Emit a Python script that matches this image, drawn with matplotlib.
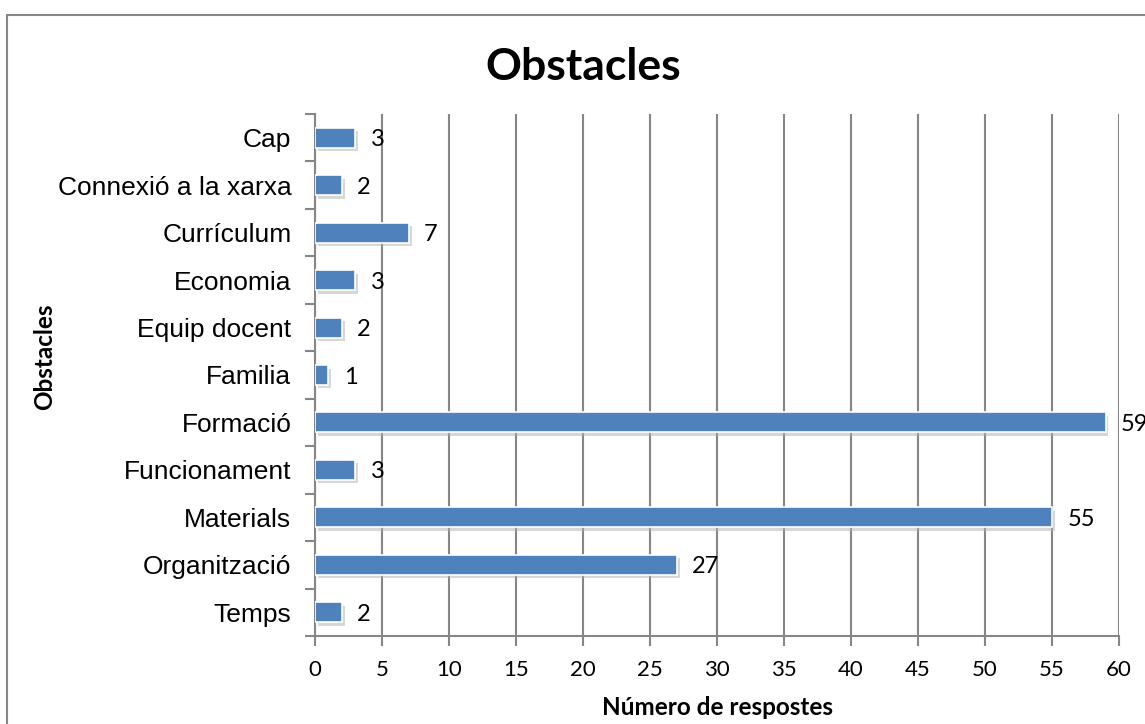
import matplotlib
matplotlib.use("Agg")
import matplotlib.pyplot as plt
import matplotlib.patheffects as pe
from matplotlib.patches import Rectangle

# data (top to bottom)
categories = ["Cap", "Connexió a la xarxa", "Currículum", "Economia", "Equip docent",
              "Familia", "Formació", "Funcionament", "Materials", "Organització", "Temps"]
values = [3, 2, 7, 3, 2, 1, 59, 3, 55, 27, 2]
xticks = list(range(0, 61, 5))

bar_color = "#4F81BD"
grid_color = "#868686"

fig = plt.figure(figsize=(11.45, 7.24), dpi=100)
ax = fig.add_axes([315 / 1145, 1 - 636 / 724, (1119 - 315) / 1145, (636 - 114) / 724])

# outer chart border
fig.patches.append(Rectangle((7 / 1145, -0.1), 1.2, 1 - 15 / 724 + 0.1,
                             transform=fig.transFigure, fill=False,
                             edgecolor="#878787", linewidth=1.5))

ypos = list(range(len(categories)))[::-1]
bars = ax.barh(ypos, values, height=0.42, color=bar_color, edgecolor="white",
               linewidth=1.2, zorder=3)
for b in bars:
    b.set_path_effects([pe.SimplePatchShadow(offset=(2, -2.5), shadow_rgbFace="#b0b0b0", alpha=0.5),
                        pe.Normal()])

for y, v in zip(ypos, values):
    ax.annotate(str(v), (v, y), xytext=(11, -1.5), textcoords="offset points",
                va="center", ha="left", fontsize=17, family="Lato", zorder=4)

ax.set_xlim(0, 60)
ax.set_ylim(-0.5, len(categories) - 0.5)
ax.set_xticks(xticks)
ax.set_xticklabels([str(t) for t in xticks], family="Lato", fontsize=16)
ax.set_yticks(ypos)
ax.set_yticklabels(categories, family="Liberation Sans", fontsize=19)
ax.set_yticks([y + 0.5 for y in range(-1, len(categories))], minor=True)

ax.tick_params(axis="y", which="major", length=0, pad=17)
ax.tick_params(axis="y", which="minor", length=7, width=1.5, color=grid_color)
ax.tick_params(axis="x", length=7, width=1.5, color=grid_color, pad=10)

ax.grid(axis="x", color=grid_color, linewidth=1.5, zorder=0)
ax.set_axisbelow(True)
for s in ["top", "right"]:
    ax.spines[s].set_visible(False)
for s in ["left", "bottom"]:
    ax.spines[s].set_color(grid_color)
    ax.spines[s].set_linewidth(1.5)

ax.set_xlabel("Número de respostes", family="Lato", fontweight="bold", fontsize=17.5, labelpad=12)
ax.set_ylabel("Obstacles", family="Lato", fontweight="bold", fontsize=17.5)
ax.yaxis.set_label_coords(-0.322, 0.535)

fig.text(583 / 1145, 1 - 67 / 724, "Obstacles", family="Lato", fontweight="bold",
         fontsize=32, ha="center", va="center")

fig.savefig("out.png", dpi=100)
